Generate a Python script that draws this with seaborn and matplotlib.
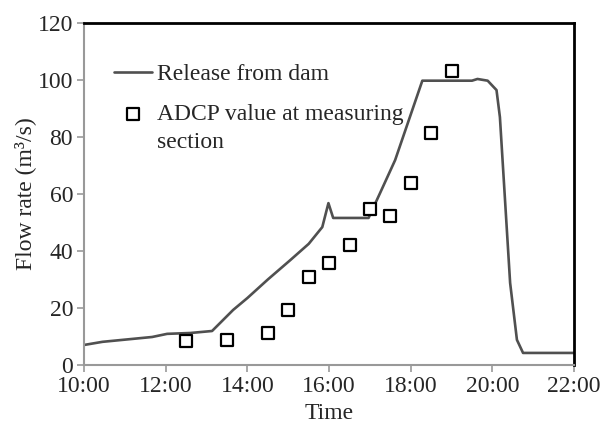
import pandas as pd
import seaborn as sns
import matplotlib.pyplot as plt

# release from dam (time, m3/s)
release_time = ['10:00', '10:27', '11:40', '12:02', '12:36', '13:08', '13:39', '14:00',
                '14:30', '15:03', '15:30', '15:50', '15:59', '16:06', '16:58', '17:15',
                '17:37', '18:17', '19:30', '19:38', '19:53', '20:06', '20:11', '20:26',
                '20:36', '20:45', '22:00']
release_flow = [7.0, 8.1, 9.8, 10.9, 11.2, 11.9, 19.3, 23.5,
                30.0, 36.8, 42.5, 48.4, 56.8, 51.6, 51.6, 60.4,
                71.9, 99.8, 99.8, 100.4, 99.8, 96.5, 87.0, 28.8,
                8.8, 4.2, 4.2]

# ADCP measurements
adcp_time = ['12:30', '13:30', '14:30', '15:00', '15:30', '16:00', '16:30',
             '17:00', '17:30', '18:00', '18:30', '19:00']
adcp_flow = [8.5, 8.8, 11.3, 19.3, 30.9, 35.8, 42.1, 54.7, 52.3, 63.9, 81.4, 103.2]

tick_labels = ['10:00', '12:00', '14:00', '16:00', '18:00', '20:00', '22:00']


def to_hours(t):
    h, m = t.split(':')
    return int(h) + int(m) / 60


rel = pd.DataFrame({'t': [to_hours(t) for t in release_time], 'q': release_flow})
adcp = pd.DataFrame({'t': [to_hours(t) for t in adcp_time], 'q': adcp_flow})

sns.set_style('white')
plt.rcParams['font.family'] = ['Liberation Serif', 'DejaVu Serif']
plt.rcParams['font.size'] = 17

fig = plt.figure(figsize=(6.14, 4.37), dpi=100)
ax = fig.add_axes([0.137, 0.165, 0.798, 0.782])

sns.lineplot(data=rel, x='t', y='q', ax=ax, color='#505050', linewidth=1.9,
             label='Release from dam', sort=False, estimator=None)
sns.scatterplot(data=adcp, x='t', y='q', ax=ax, marker='s', s=70,
                facecolor='white', edgecolor='black', linewidth=1.6,
                label='ADCP value at measuring', zorder=3)

ax.set_xlim(10, 22)
ax.set_ylim(0, 120)
ax.set_xticks([to_hours(t) for t in tick_labels])
ax.set_xticklabels(tick_labels)
ax.set_yticks(range(0, 121, 20))
ax.set_xlabel('Time')
ax.set_ylabel('Flow rate (m³/s)', labelpad=1)

for side in ['left', 'bottom']:
    ax.spines[side].set_color('#999999')
    ax.spines[side].set_linewidth(1.5)
for side in ['top', 'right']:
    ax.spines[side].set_color('black')
    ax.spines[side].set_linewidth(2)
ax.tick_params(axis='both', which='major', direction='out', length=5, width=1.2,
               color='#999999', left=True, bottom=True, pad=3)

leg = ax.legend(loc='upper left', bbox_to_anchor=(0.061, 0.882), frameon=False,
                borderaxespad=0, borderpad=0, handlelength=1.6, handletextpad=0.2,
                labelspacing=0.8, fontsize=17)

# second line of the ADCP label, placed under the legend text
fig.canvas.draw()
bb = leg.get_texts()[1].get_window_extent()
W, H = fig.canvas.get_width_height()
fig.text(bb.x0 / W, (bb.y0 - 28) / H, 'section', fontsize=17, ha='left', va='bottom')

fig.savefig('out.png', dpi=100)
